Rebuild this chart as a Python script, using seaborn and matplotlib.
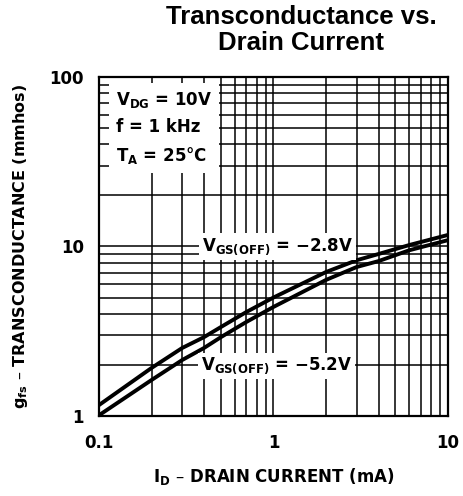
import pandas as pd
import matplotlib
matplotlib.use("Agg")
import matplotlib.pyplot as plt
import seaborn as sns

# Values (log-log)
drain_current_ma = [0.1, 0.2, 0.3, 0.4, 0.5, 0.7, 1.0, 2.0, 3.0, 4.0, 6.0, 10.0]
gfs_vp_2p8 = [1.16, 1.92, 2.52, 2.92, 3.35, 4.11, 5.0, 7.07, 8.3, 9.03, 10.2, 11.7]
gfs_vp_5p2 = [1.01, 1.63, 2.14, 2.52, 2.92, 3.59, 4.4, 6.35, 7.57, 8.2, 9.5, 10.9]

x_ticks = [0.1, 1, 10]
x_tick_labels = ["0.1", "1", "10"]
y_ticks = [1, 10, 100]
y_tick_labels = ["1", "10", "100"]

df = pd.DataFrame({
    "id": drain_current_ma * 2,
    "gfs": gfs_vp_2p8 + gfs_vp_5p2,
    "curve": ["-2.8V"] * len(drain_current_ma) + ["-5.2V"] * len(drain_current_ma),
})

sns.set_style("white")
plt.rcParams["font.family"] = ["DejaVu Sans"]
plt.rcParams["text.color"] = "black"
plt.rcParams["axes.labelcolor"] = "black"
plt.rcParams["xtick.color"] = "black"
plt.rcParams["ytick.color"] = "black"

fig = plt.figure(figsize=(4.63, 4.96), dpi=100)
ax = fig.add_axes([0.2138, 0.1613, 0.7538, 0.6835])

sns.lineplot(data=df, x="id", y="gfs", hue="curve",
             palette=["black", "black"], linewidth=2.8, legend=False, ax=ax)

ax.set_xscale("log")
ax.set_yscale("log")
ax.set_xlim(0.1, 10)
ax.set_ylim(1, 100)

ax.grid(True, which="both", color="black", linewidth=1.1)
ax.set_axisbelow(True)
for s in ax.spines.values():
    s.set_color("black")
    s.set_linewidth(1.6)

ax.set_xticks(x_ticks, x_tick_labels)
ax.set_yticks(y_ticks, y_tick_labels)
ax.tick_params(which="both", length=0)
ax.tick_params(axis="x", pad=13, labelsize=12)
ax.tick_params(axis="y", pad=11, labelsize=12)
for lab in ax.get_xticklabels() + ax.get_yticklabels():
    lab.set_fontweight("bold")

ax.set_xlabel(r"$\mathbf{I_D}$ – DRAIN CURRENT (mA)", fontsize=12,
              fontweight="bold", labelpad=10)
ax.set_ylabel(r"$\mathbf{g_{fs}}$ – TRANSCONDUCTANCE (mmhos)", fontsize=11.5,
              fontweight="bold", labelpad=14)

box = dict(facecolor="white", edgecolor="none", pad=2)
ax.text(0.1245, 50, "$\\mathbf{V_{DG}}$ = 10V\nf = 1 kHz\n$\\mathbf{T_A}$ = 25°C",
        fontsize=12, fontweight="bold", va="center", ha="left",
        linespacing=1.55,
        bbox=dict(facecolor="white", edgecolor="none", pad=5))
ax.text(1.06, 10, "$\\mathbf{V_{GS(OFF)}}$ = −2.8V", fontsize=12,
        fontweight="bold", ha="center", va="center", bbox=box)
ax.text(1.04, 1.97, "$\\mathbf{V_{GS(OFF)}}$ = −5.2V", fontsize=12,
        fontweight="bold", ha="center", va="center", bbox=box)

fig.text(0.65, 0.99, "Transconductance vs.\nDrain Current", ha="center",
         va="top", fontsize=18.5, fontweight="bold", color="black",
         family=["Liberation Sans", "DejaVu Sans"], linespacing=1.1)

fig.savefig("out.png", dpi=100)
